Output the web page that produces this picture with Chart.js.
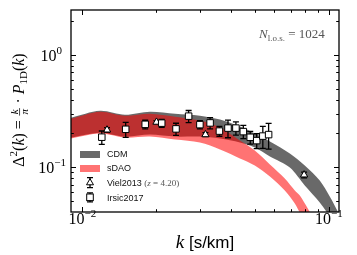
<!DOCTYPE html>
<html><head><meta charset="utf-8">
<script src="https://cdn.jsdelivr.net/npm/chart.js@4/dist/chart.umd.min.js"></script>
<style>html,body{margin:0;padding:0;background:#fff;overflow:hidden}#wrap{width:357px;height:255px;position:relative}canvas{display:block}</style>
</head><body><div id="wrap"><canvas id="c" width="357" height="255"></canvas></div>
<script>
// ---- data ----
const cdmK     = [0.0090,0.0118,0.0149,0.0188,0.0238,0.0300,0.0362,0.0436,0.0501,0.0577,0.0695,0.0799,0.0919,0.1009,0.1088,0.1160];
const cdmUpper = [0.2759,0.3184,0.2933,0.3119,0.2993,0.2875,0.2651,0.2297,0.1991,0.1690,0.1323,0.1035,0.0762,0.0550,0.0404,0.0304];
const cdmLower = [0.1834,0.2031,0.1872,0.1950,0.1872,0.1873,0.1797,0.1656,0.1495,0.1244,0.0994,0.0688,0.0486,0.0365,0.0286,0.0224];
const sdaoK     = [0.0090,0.0118,0.0149,0.0188,0.0238,0.0300,0.0362,0.0436,0.0501,0.0577,0.0663,0.0728,0.0763,0.0822,0.0877];
const sdaoUpper = [0.2703,0.3119,0.2874,0.2993,0.2815,0.2597,0.2251,0.1725,0.1407,0.1057,0.0794,0.0621,0.0561,0.0430,0.0336];
const sdaoLower = [0.1805,0.1990,0.1834,0.1872,0.1761,0.1656,0.1436,0.1195,0.1035,0.0827,0.0621,0.0476,0.0396,0.0304,0.0224];
const irsicK   = [0.012,0.015,0.018,0.021,0.024,0.027,0.030,0.033,0.036,0.039,0.042,0.045,0.048,0.051,0.054,0.057];
const irsicP   = [0.1850,0.2174,0.2407,0.2467,0.2192,0.2846,0.2392,0.2477,0.2096,0.2228,0.2228,0.2074,0.1846,0.1725,0.1892,0.1951];
const irsicErr = [0.025,0.033,0.021,0.020,0.027,0.035,0.020,0.028,0.021,0.040,0.030,0.028,0.024,0.026,0.042,0.050];
const vielK   = [0.0126,0.0200,0.0316,0.0794];
const vielP   = [0.2148,0.2518,0.1951,0.0856];
const vielErr = [0.010,0.008,0.008,0.005];
const xMajorTicks = [0.01,0.1];
const xMajorExp   = ['\u22122','\u22121'];
const xMinorTicks = [0.02,0.03,0.04,0.05,0.06,0.07,0.08,0.09];
const yMajorTicks = [0.1,1];
const yMajorExp   = ['\u22121','0'];
const yMinorTicks = [0.05,0.06,0.07,0.08,0.09,0.2,0.3,0.4,0.5,0.6,0.7,0.8,0.9,2];
const legendLabels = ['CDM','sDAO','Viel2013','Irsic2017'];

const GRAY = 'rgba(0,0,0,0.59)';
const RED  = 'rgba(255,0,0,0.55)';
const SERIF = '"Liberation Serif", "DejaVu Serif", serif';
const SANS  = '"Liberation Sans", Arial, sans-serif';

function pts(ks, vs){ return ks.map((k,i)=>({x:k,y:vs[i]})); }

function drawRuns(c, runs, x, y, align){
  let w = 0;
  runs.forEach(r=>{
    if (r.frac){ c.font=r.f; r.w = Math.max(c.measureText(r.num).width, c.measureText(r.den).width) + 2*(r.pad||1.5); }
    else { c.font=r.f; r.w = c.measureText(r.t).width; }
    w += r.w;
  });
  let sx = align==='right' ? x-w : align==='center' ? x-w/2 : x;
  c.textBaseline = 'alphabetic'; c.textAlign = 'left';
  runs.forEach(r=>{
    c.fillStyle = r.c || '#000';
    c.font = r.f;
    if (r.frac){
      const nw=c.measureText(r.num).width, dw=c.measureText(r.den).width;
      const ax = y - r.axis;
      c.fillText(r.num, sx + (r.w-nw)/2, ax - 1.6);
      c.fillText(r.den, sx + (r.w-dw)/2, ax + r.dh);
      c.fillRect(sx+0.5, ax-0.35, r.w-1, 0.7);
    } else {
      c.fillText(r.t, sx, y - (r.dy||0));
    }
    sx += r.w;
  });
  return w;
}

function drawErr(ch, ks, vs, es){
  const c = ch.ctx, xs = ch.scales.x, ys = ch.scales.y;
  c.save();
  c.beginPath(); c.rect(ch.chartArea.left, ch.chartArea.top, ch.chartArea.right-ch.chartArea.left, ch.chartArea.bottom-ch.chartArea.top); c.clip();
  c.strokeStyle = '#000'; c.lineWidth = 1.3;
  ks.forEach((k,i)=>{
    const px = xs.getPixelForValue(k);
    const y1 = ys.getPixelForValue(vs[i]+es[i]);
    const y2 = ys.getPixelForValue(vs[i]-es[i]);
    c.beginPath();
    c.moveTo(px,y1); c.lineTo(px,y2);
    c.moveTo(px-3,y1); c.lineTo(px+3,y1);
    c.moveTo(px-3,y2); c.lineTo(px+3,y2);
    c.stroke();
  });
  c.restore();
}

const decor = {
  id:'decor',
  beforeDatasetDraw(ch, args){
    if (args.index===0) drawErr(ch, irsicK, irsicP, irsicErr);
    if (args.index===1) drawErr(ch, vielK, vielP, vielErr);
  },
  afterDraw(ch){
    const c = ch.ctx, a = ch.chartArea, xs = ch.scales.x, ys = ch.scales.y;
    c.save();
    c.strokeStyle = '#000'; c.lineWidth = 1;
    const tk = (list, len) => {
      list.forEach(v=>{
        const px = Math.round(xs.getPixelForValue(v))+0.5;
        if (px < a.left || px > a.right) return;
        c.beginPath(); c.moveTo(px,a.bottom); c.lineTo(px,a.bottom-len); c.moveTo(px,a.top); c.lineTo(px,a.top+len); c.stroke();
      });
    };
    const tky = (list, len) => {
      list.forEach(v=>{
        const py = Math.round(ys.getPixelForValue(v))+0.5;
        if (py < a.top || py > a.bottom) return;
        c.beginPath(); c.moveTo(a.left,py); c.lineTo(a.left+len,py); c.moveTo(a.right,py); c.lineTo(a.right-len,py); c.stroke();
      });
    };
    tk(xMajorTicks,5); tk(xMinorTicks,2.8); tky(yMajorTicks,5); tky(yMinorTicks,2.8);
    c.lineWidth = 1.3;
    c.strokeRect(a.left, a.top, a.right-a.left, a.bottom-a.top);
    c.fillStyle = '#000';
    xMajorTicks.forEach((v,i)=>{
      const px = xs.getPixelForValue(v);
      drawRuns(c, [{t:'10', f:'16px '+SERIF},{t:xMajorExp[i], f:'11px '+SERIF, dy:7}], px, 223.5, 'center');
    });
    yMajorTicks.forEach((v,i)=>{
      const py = ys.getPixelForValue(v);
      drawRuns(c, [{t:'10', f:'16px '+SERIF},{t:yMajorExp[i], f:'11px '+SERIF, dy:7}], a.left-5 - (i===1?4:0), py+6, 'right');
    });
    drawRuns(c, [{t:'k', f:'italic 19px '+SERIF},{t:' [s/km]', f:'17px '+SANS}], (a.left+a.right)/2, 248, 'center');
    c.save();
    c.translate(24, 110); c.rotate(-Math.PI/2);
    const S = 16;
    drawRuns(c, [
      {t:'\u0394', f:S+'px '+SERIF},
      {t:'2', f:Math.round(S*0.7)+'px '+SERIF, dy:S*0.45},
      {t:'(', f:S+'px '+SERIF},
      {t:'k', f:'italic '+S+'px '+SERIF},
      {t:')', f:S+'px '+SERIF},
      {t:' = ', f:S+'px '+SERIF},
      {frac:true, num:'k', den:'\u03c0', f:'italic '+Math.round(S*0.7)+'px '+SERIF, axis:S*0.27, dh:S*0.5},
      {t:' \u00b7 ', f:S+'px '+SERIF},
      {t:'P', f:'italic '+S+'px '+SERIF},
      {t:'1D', f:Math.round(S*0.7)+'px '+SERIF, dy:-S*0.2},
      {t:'(', f:S+'px '+SERIF},
      {t:'k', f:'italic '+S+'px '+SERIF},
      {t:')', f:S+'px '+SERIF}
    ], 0, 0, 'center');
    c.restore();
    drawRuns(c, [
      {t:'N', f:'italic 13px '+SERIF, c:'#555'},
      {t:'l.o.s.', f:'9px '+SERIF, c:'#555', dy:-3},
      {t:' = 1024', f:'13px '+SERIF, c:'#555'}
    ], 259, 38.3, 'left');
    c.fillStyle = GRAY; c.fillRect(80,151,20,7);
    c.fillStyle = RED;  c.fillRect(80,165,20,7);
    c.font = '9px '+SANS; c.fillStyle = '#111'; c.textBaseline='middle';
    c.fillText(legendLabels[0], 107, 155);
    c.fillText(legendLabels[1], 107, 169);
    c.textBaseline='alphabetic';
    drawRuns(c, [
      {t:legendLabels[2]+' ', f:'9px '+SANS, c:'#111'},
      {t:'(', f:'9px '+SERIF, c:'#555'},
      {t:'z', f:'italic 9px '+SERIF, c:'#555'},
      {t:' = 4.20)', f:'9px '+SERIF, c:'#555'}
    ], 107, 186, 'left');
    drawRuns(c, [{t:legendLabels[3], f:'9px '+SANS, c:'#111'}], 107, 201, 'left');
    c.strokeStyle='#000'; c.lineWidth=1.3;
    [[182.7,5],[197.3,4.5]].forEach(([yy,h])=>{
      c.beginPath(); c.moveTo(90,yy-h); c.lineTo(90,yy+h);
      c.moveTo(87,yy-h); c.lineTo(93,yy-h); c.moveTo(87,yy+h); c.lineTo(93,yy+h); c.stroke();
    });
    c.fillStyle='#fff'; c.lineWidth=1;
    c.beginPath(); c.moveTo(90,178.7); c.lineTo(93.5,184.8); c.lineTo(86.5,184.8); c.closePath(); c.fill(); c.stroke();
    c.fillRect(86.7,194,6.6,6.6); c.strokeRect(86.7,194,6.6,6.6);
    c.restore();
  }
};

new Chart(document.getElementById('c'), {
  type:'line',
  data:{ datasets:[
    {label:'Irsic2017', data:pts(irsicK,irsicP), showLine:false, pointStyle:'rect', pointRadius:4.6, pointBackgroundColor:'#fff', pointBorderColor:'#000', pointBorderWidth:1, order:0},
    {label:'Viel2013', data:pts(vielK,vielP), showLine:false, pointStyle:'triangle', pointRadius:4.2, pointBackgroundColor:'#fff', pointBorderColor:'#000', pointBorderWidth:1, order:1},
    {label:'sDAO upper', data:pts(sdaoK,sdaoUpper), borderWidth:0, pointRadius:0, fill:false, tension:0.3, order:2},
    {label:'sDAO', data:pts(sdaoK,sdaoLower), borderWidth:0, pointRadius:0, fill:'-1', backgroundColor:RED, tension:0.3, order:3},
    {label:'CDM upper', data:pts(cdmK,cdmUpper), borderWidth:0, pointRadius:0, fill:false, tension:0.3, order:4},
    {label:'CDM', data:pts(cdmK,cdmLower), borderWidth:0, pointRadius:0, fill:'-1', backgroundColor:GRAY, tension:0.3, order:5}
  ]},
  options:{
    responsive:false, animation:false, devicePixelRatio:1,
    layout:{padding:{left:71, right:18, top:10, bottom:43}},
    plugins:{legend:{display:false}, tooltip:{enabled:false}},
    scales:{
      x:{type:'logarithmic', min:0.009, max:0.11, display:false},
      y:{type:'logarithmic', min:0.04, max:2.5, display:false}
    }
  },
  plugins:[decor]
});
</script></body></html>
